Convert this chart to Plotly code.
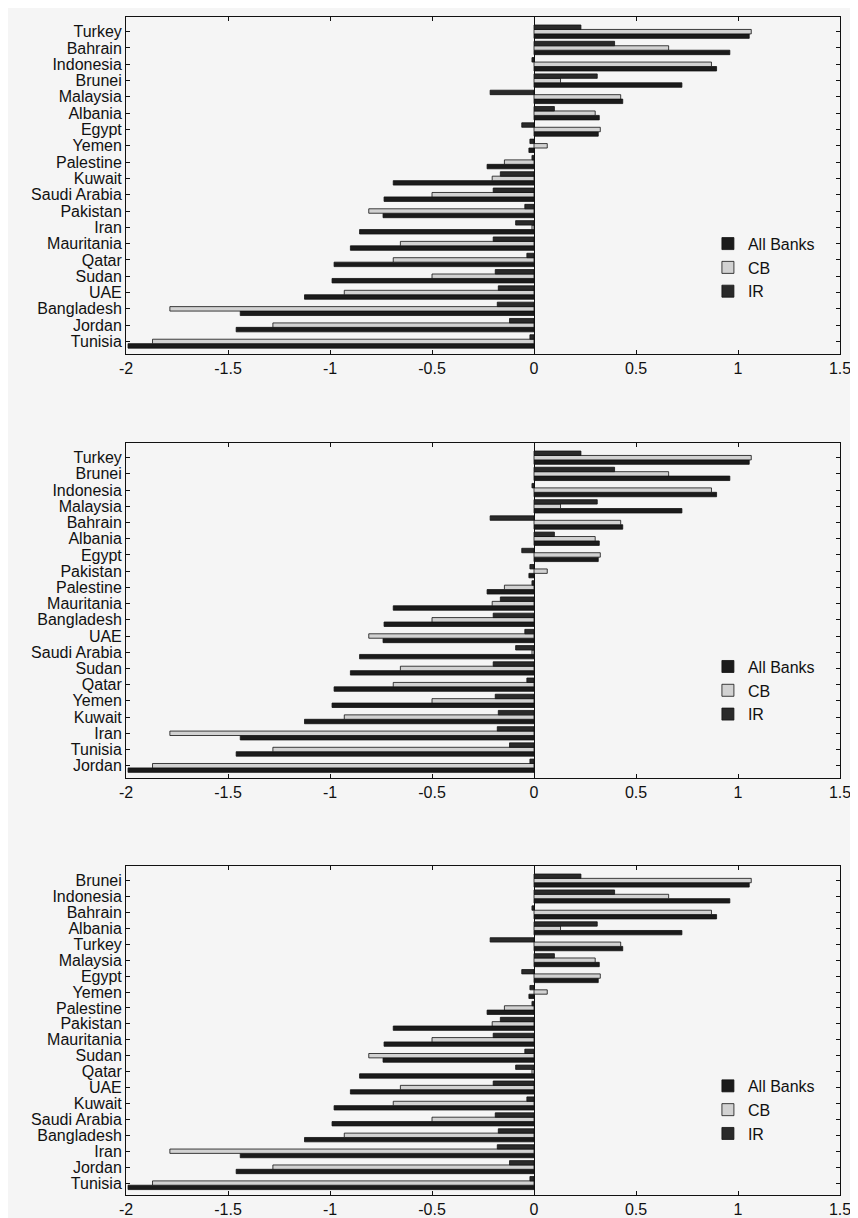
import plotly.graph_objects as go

# Bar values (top-to-bottom order of the groups; identical in all three panels)
all_banks = [1.055, 0.96, 0.895, 0.725, 0.435, 0.32, 0.315, -0.025, -0.23, -0.69,
             -0.735, -0.74, -0.855, -0.90, -0.98, -0.99, -1.125, -1.44, -1.46, -1.99]
cb = [1.065, 0.66, 0.87, 0.13, 0.425, 0.30, 0.325, 0.065, -0.145, -0.205,
      -0.50, -0.81, -0.01, -0.655, -0.69, -0.50, -0.93, -1.785, -1.28, -1.87]
ir = [0.23, 0.395, -0.01, 0.31, -0.215, 0.10, -0.06, -0.02, -0.01, -0.165,
      -0.20, -0.045, -0.09, -0.20, -0.035, -0.19, -0.175, -0.18, -0.12, -0.02]

labels_1 = ["Turkey", "Bahrain", "Indonesia", "Brunei", "Malaysia", "Albania", "Egypt",
            "Yemen", "Palestine", "Kuwait", "Saudi Arabia", "Pakistan", "Iran",
            "Mauritania", "Qatar", "Sudan", "UAE", "Bangladesh", "Jordan", "Tunisia"]
labels_2 = ["Turkey", "Brunei", "Indonesia", "Malaysia", "Bahrain", "Albania", "Egypt",
            "Pakistan", "Palestine", "Mauritania", "Bangladesh", "UAE", "Saudi Arabia",
            "Sudan", "Qatar", "Yemen", "Kuwait", "Iran", "Tunisia", "Jordan"]
labels_3 = ["Brunei", "Indonesia", "Bahrain", "Albania", "Turkey", "Malaysia", "Egypt",
            "Yemen", "Palestine", "Pakistan", "Mauritania", "Sudan", "Qatar", "UAE",
            "Kuwait", "Saudi Arabia", "Bangladesh", "Iran", "Jordan", "Tunisia"]

series_names = ["All Banks", "CB", "IR"]
x_ticks = [-2, -1.5, -1, -0.5, 0, 0.5, 1, 1.5]

FONT = "Liberation Sans, Arial, Helvetica, sans-serif"
BG = "#f5f5f5"
DARK_ALL = "#1b1b1b"
DARK_IR = "#2a2a2a"
LIGHT_CB = "#d2d2d2"

panels = [
    (labels_1, [0.7142, 1.0], (0.815, 0.822)),
    (labels_2, [0.3541, 0.6383], (0.815, 0.463)),
    (labels_3, [0.0, 0.2791], (0.815, 0.107)),
]

fig = go.Figure()
layout = dict(
    width=858, height=1218,
    margin=dict(l=118, r=26, t=8, b=24),
    paper_bgcolor=BG, plot_bgcolor=BG,
    font=dict(family=FONT, size=16, color="#111111"),
    barmode="group", bargap=0.18, bargroupgap=0.0,
    showlegend=True,
)

for i, (labels, dom, (lx, ly)) in enumerate(panels):
    sfx = "" if i == 0 else str(i + 1)
    xref = "x" + sfx
    yref = "y" + sfx
    leg = "legend" + sfx
    data = [all_banks, cb, ir]
    colors = [DARK_ALL, LIGHT_CB, DARK_IR]
    for name, vals, col in zip(series_names, data, colors):
        fig.add_trace(go.Bar(
            x=vals, y=labels, orientation="h", name=name,
            marker=dict(color=col, line=dict(color="#111111", width=0.8)),
            xaxis=xref, yaxis=yref, legend=leg,
        ))
    layout["xaxis" + sfx] = dict(
        domain=[0, 1], anchor=yref, range=[-2, 1.5],
        tickmode="array", tickvals=x_ticks, ticktext=[f"{v:g}" for v in x_ticks],
        ticks="inside", ticklen=4, tickcolor="#111111",
        showline=True, linecolor="#111111", linewidth=1, mirror="ticks",
        showgrid=False, zeroline=True, zerolinecolor="#111111", zerolinewidth=1,
        tickfont=dict(size=16),
    )
    layout["yaxis" + sfx] = dict(
        domain=dom, anchor=xref, type="category",
        categoryorder="array", categoryarray=list(reversed(labels)),
        tickmode="array", tickvals=labels, ticktext=labels,
        range=[-0.75, 19.9],
        ticks="inside", ticklen=4, tickcolor="#111111",
        showline=True, linecolor="#111111", linewidth=1, mirror="ticks",
        showgrid=False, zeroline=False,
        tickfont=dict(size=16),
    )
    layout[leg] = dict(
        x=lx, y=ly, xanchor="left", yanchor="top",
        bgcolor="rgba(0,0,0,0)", borderwidth=0,
        font=dict(size=16), tracegroupgap=0, traceorder="normal",
        itemwidth=30,
    )

fig.update_layout(**layout)
fig.write_html("out.html")
